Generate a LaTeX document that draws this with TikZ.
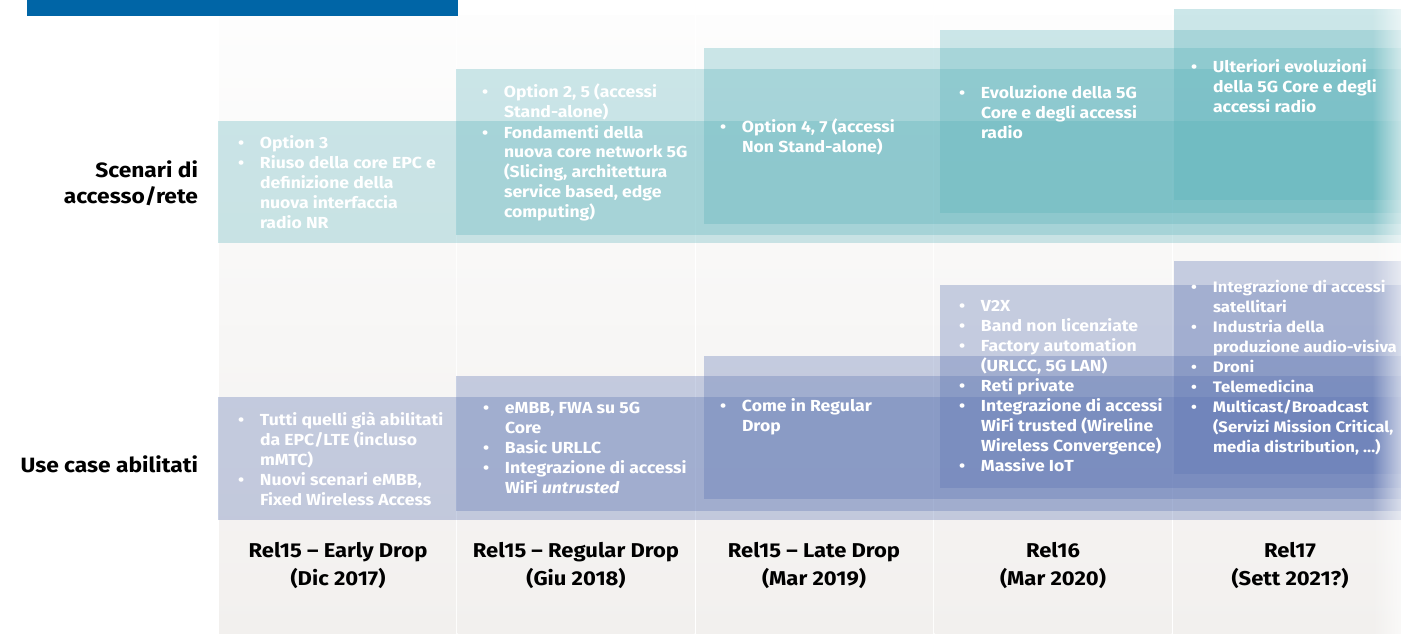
\documentclass[tikz,border=0pt]{standalone}
\usepackage{fontspec}
\setmainfont{Fira Sans}[FakeStretch=1.1]
\usetikzlibrary{fadings}
\definecolor{barblue}{RGB}{0,101,166}
\definecolor{tealc}{RGB}{88,177,185}
\definecolor{purc}{RGB}{94,117,179}
\definecolor{colTop}{RGB}{253,253,253}
\definecolor{colBot}{RGB}{242,240,238}
\newcommand{\bi}{\makebox[22pt][l]{\textbullet}}
\newcommand{\ci}{\hspace*{22pt}}
\newcommand{\blist}[1]{\begin{tabular}[t]{@{}l@{}}#1\end{tabular}}
\newcommand{\rlab}[1]{\begin{tabular}[t]{@{}r@{}}#1\end{tabular}}
\newcommand{\clab}[1]{\begin{tabular}[t]{@{}c@{}}#1\end{tabular}}
\begin{document}
\begin{tikzpicture}[x=1pt,y=-1pt,
  every node/.style={inner sep=0pt,outer sep=0pt},
  boxtxt/.style={anchor=base west,text=white,font=\fontsize{16}{20}\selectfont\bfseries},
  rowlab/.style={anchor=base east,font=\fontsize{20.7}{26}\selectfont\bfseries},
  rellab/.style={anchor=base,font=\fontsize{20}{28}\selectfont\bfseries},
  colbg/.style={top color=colTop,bottom color=colBot,draw=none},
  tealbox/.style={fill=tealc,fill opacity=0.3},
  purbox/.style={fill=purc,fill opacity=0.33}]
\useasboundingbox (0,0) rectangle (1401,634);
\clip (0,0) rectangle (1401,634);
\fill[white] (0,0) rectangle (1401,634);
% columns
\foreach \l in {219,457.5,696,934.5,1173}{
  \shade[colbg] (\l,16) rectangle (\l+237,634);
}
% top bar
\fill[barblue] (27,0) rectangle (458,16);
% teal boxes
\fill[tealbox] (218,121) rectangle (1410,243);
\fill[tealbox] (456,69) rectangle (1410,235);
\fill[tealbox] (704,48) rectangle (1410,224);
\fill[tealbox] (940,30) rectangle (1410,213);
\fill[tealbox] (1174,9) rectangle (1410,200);
% purple boxes
\fill[purbox] (218,397) rectangle (1410,520);
\fill[purbox] (456,376) rectangle (1410,511);
\fill[purbox] (704,356) rectangle (1410,499);
\fill[purbox] (940,285) rectangle (1410,488);
\fill[purbox] (1174,261) rectangle (1410,474);
% right fade
\fill[white,fill opacity=0.6,path fading=west] (1372,0) rectangle (1401,634);
% teal texts
\node[boxtxt] (t1) at (238,148) {\blist{\bi Option 3\\ \bi Riuso della core EPC e\\ \ci definizione della\\ \ci nuova interfaccia\\ \ci radio NR}};
\node[boxtxt] (t2) at (482,98) {\blist{\bi Option 2, 5 (accessi\\ \ci Stand-alone)\\ \bi Fondamenti della\\ \ci nuova core network 5G\\ \ci (Slicing, architettura\\ \ci service based, edge\\ \ci computing)}};
\node[boxtxt] (t3) at (720,132) {\blist{\bi Option 4, 7 (accessi\\ \ci Non Stand-alone)}};
\node[boxtxt] (t4) at (959,99) {\blist{\bi Evoluzione della 5G\\ \ci Core e degli accessi\\ \ci radio}};
\node[boxtxt] (t5) at (1191,73) {\blist{\bi Ulteriori evoluzioni\\ \ci della 5G Core e degli\\ \ci accessi radio}};
% purple texts
\node[boxtxt] (u1) at (238,425) {\blist{\bi Tutti quelli già abilitati\\ \ci da EPC/LTE (incluso\\ \ci mMTC)\\ \bi Nuovi scenari eMBB,\\ \ci Fixed Wireless Access}};
\node[boxtxt] (u2) at (483,413) {\blist{\bi eMBB, FWA su 5G\\ \ci Core\\ \bi Basic URLLC\\ \bi Integrazione di accessi\\ \ci WiFi \textit{untrusted}}};
\node[boxtxt] (u3) at (720,411) {\blist{\bi Come in Regular\\ \ci Drop}};
\node[boxtxt] (u4) at (959,311) {\blist{\bi V2X\\ \bi Band non licenziate\\ \bi Factory automation\\ \ci (URLCC, 5G LAN)\\ \bi Reti private\\ \bi Integrazione di accessi\\ \ci WiFi trusted (Wireline\\ \ci Wireless Convergence)\\ \bi Massive IoT}};
\node[boxtxt,font=\fontsize{15.2}{20}\selectfont\bfseries] (u5) at (1191,292) {\blist{\bi Integrazione di accessi\\ \ci satellitari\\ \bi Industria della\\ \ci produzione audio-visiva\\ \bi Droni\\ \bi Telemedicina\\ \bi Multicast/Broadcast\\ \ci (Servizi Mission Critical,\\ \ci media distribution, \dots)}};
% row labels
\node[rowlab] (r1) at (198,177) {\rlab{Scenari di\hspace{5pt}\\ accesso/rete}};
\node[rowlab] (r2) at (198,472) {Use case abilitati};
% release labels
\node[rellab] (c1) at (338,557) {\clab{Rel15 – Early Drop\\ (Dic 2017)}};
\node[rellab] (c2) at (576,557) {\clab{Rel15 – Regular Drop\\ (Giu 2018)}};
\node[rellab] (c3) at (814,557) {\clab{Rel15 – Late Drop\\ (Mar 2019)}};
\node[rellab] (c4) at (1053,557) {\clab{Rel16\\ (Mar 2020)}};
\node[rellab] (c5) at (1290,557) {\clab{Rel17\\ (Sett 2021?)}};
\end{tikzpicture}
\end{document}
